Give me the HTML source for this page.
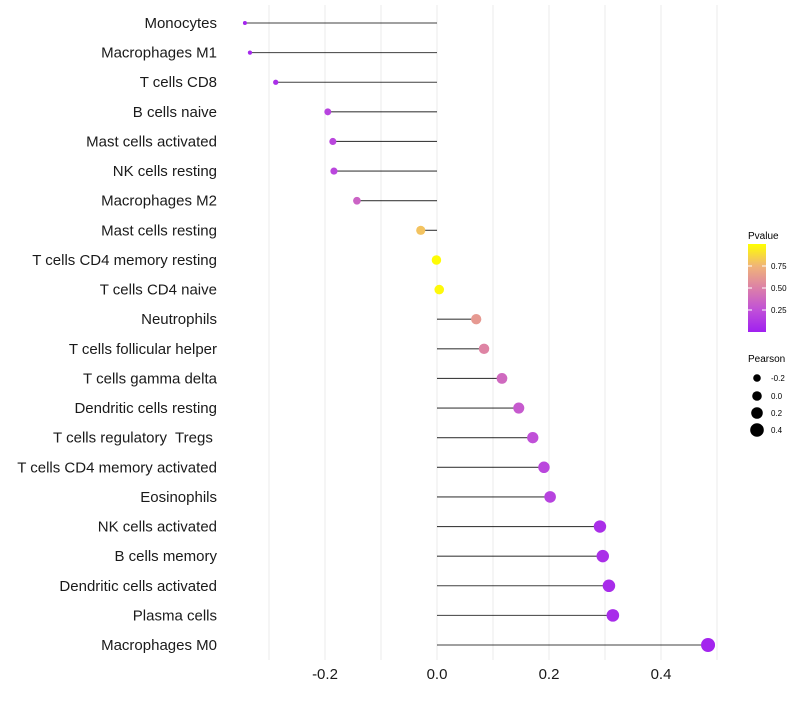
<!DOCTYPE html>
<html><head><meta charset="utf-8"><style>
body{margin:0;background:#fff;font-family:"Liberation Sans",sans-serif;}
text{white-space:pre;}
</style></head><body>
<svg id="chart" width="800" height="700" xmlns="http://www.w3.org/2000/svg" style="font-family:'Liberation Sans',sans-serif">
<defs><linearGradient id="pgrad" x1="0" y1="1" x2="0" y2="0">
<stop offset="0" stop-color="#A020F0"/><stop offset="0.25" stop-color="#C050D8"/><stop offset="0.5" stop-color="#DC80A8"/><stop offset="0.75" stop-color="#F0B478"/><stop offset="1" stop-color="#FFFF00"/></linearGradient></defs>
<g id="grid"></g><g id="marks"></g><g id="ylabels"></g><g id="xlabels"></g>
<g>
<text x="748" y="239" font-size="10">Pvalue</text>
<rect x="748" y="244" width="18" height="88" fill="url(#pgrad)"/>
<line x1="748" x2="752" y1="266" y2="266" stroke="#fff"/><line x1="762" x2="766" y1="266" y2="266" stroke="#fff"/>
<line x1="748" x2="752" y1="288" y2="288" stroke="#fff"/><line x1="762" x2="766" y1="288" y2="288" stroke="#fff"/>
<line x1="748" x2="752" y1="310" y2="310" stroke="#fff"/><line x1="762" x2="766" y1="310" y2="310" stroke="#fff"/>
<text x="771" y="269" font-size="8">0.75</text><text x="771" y="291" font-size="8">0.50</text><text x="771" y="313" font-size="8">0.25</text>
</g>
<g>
<text x="748" y="362" font-size="10">Pearson</text>
<circle cx="757" cy="378" r="3.8"/><text x="771" y="381" font-size="8">-0.2</text>
<circle cx="757" cy="396" r="4.8"/><text x="771" y="399" font-size="8">0.0</text>
<circle cx="757" cy="413" r="5.8"/><text x="771" y="416" font-size="8">0.2</text>
<circle cx="757" cy="430" r="6.8"/><text x="771" y="433" font-size="8">0.4</text>
</g>
</svg>
<script>
const cells=["Monocytes","Macrophages M1","T cells CD8","B cells naive","Mast cells activated","NK cells resting","Macrophages M2","Mast cells resting","T cells CD4 memory resting","T cells CD4 naive","Neutrophils","T cells follicular helper","T cells gamma delta","Dendritic cells resting","T cells regulatory  Tregs ","T cells CD4 memory activated","Eosinophils","NK cells activated","B cells memory","Dendritic cells activated","Plasma cells","Macrophages M0"];
const pearson=[-0.343,-0.334,-0.288,-0.195,-0.186,-0.184,-0.143,-0.029,-0.001,0.004,0.070,0.084,0.116,0.146,0.171,0.191,0.202,0.291,0.296,0.307,0.314,0.484];
const pvalue=[0.03,0.04,0.08,0.18,0.2,0.2,0.35,0.8,0.99,0.98,0.62,0.52,0.38,0.3,0.25,0.2,0.18,0.08,0.08,0.06,0.06,0.02];
const xTicks=[-0.2,0.0,0.2,0.4];
const xTickLabels=["-0.2","0.0","0.2","0.4"];
const gridVals=[-0.3,-0.2,-0.1,0,0.1,0.2,0.3,0.4,0.5];
const NS="http://www.w3.org/2000/svg";
const xs=v=>437+v*560;
const ys=i=>23+i*(622/21);
const rs=v=>Math.sqrt(4+(v+0.343)*54.4);
const stops=[[0,[160,32,240]],[0.25,[192,80,216]],[0.5,[220,128,168]],[0.75,[240,180,120]],[1,[255,255,0]]];
function col(p){for(let k=1;k<stops.length;k++){if(p<=stops[k][0]){const a=stops[k-1],b=stops[k],t=(p-a[0])/(b[0]-a[0]);return "rgb("+a[1].map((c,j)=>Math.round(c+(b[1][j]-c)*t)).join(",")+")";}}return "rgb(255,255,0)";}
function mk(t,at,parent){const e=document.createElementNS(NS,t);for(const k in at)e.setAttribute(k,at[k]);document.getElementById(parent).appendChild(e);return e;}
gridVals.forEach(v=>{const g=mk("line",{x1:xs(v),x2:xs(v),y1:5,y2:660,stroke:"#ebebeb","stroke-width":1},"grid");

});
cells.forEach((c,i)=>{const y=ys(i);
const l=mk("line",{x1:xs(0),x2:xs(pearson[i]),y1:y,y2:y,stroke:"#000","stroke-opacity":0.75,"stroke-width":1.1},"marks");


const d=mk("circle",{cx:xs(pearson[i]),cy:y,r:rs(pearson[i]),fill:col(pvalue[i])},"marks");


const t=mk("text",{x:217,y:y+5,"text-anchor":"end","font-size":15,fill:"#1a1a1a","xml:space":"preserve"},"ylabels");t.textContent=c;

});
xTicks.forEach((v,i)=>{const t=mk("text",{x:xs(v),y:679,"text-anchor":"middle","font-size":15,fill:"#1a1a1a"},"xlabels");t.textContent=xTickLabels[i];

});
</script>
</body></html>
